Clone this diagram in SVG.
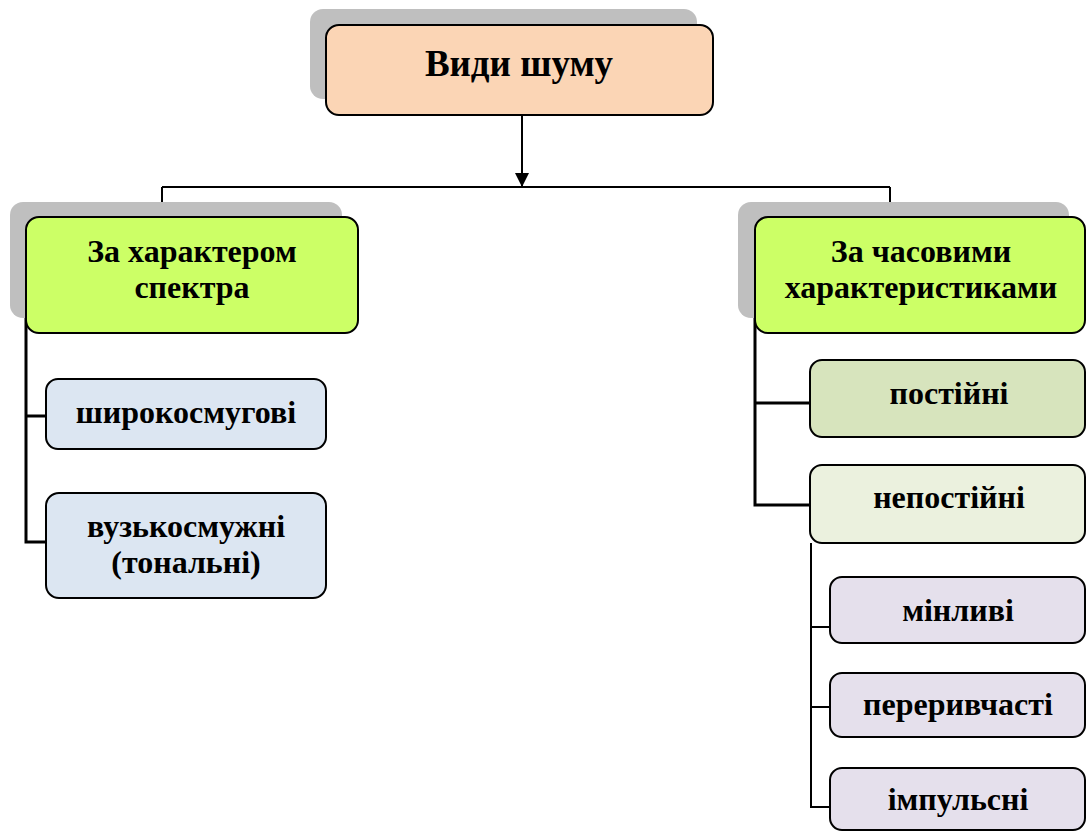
<svg xmlns="http://www.w3.org/2000/svg" width="1086" height="832" viewBox="0 0 1086 832">
  <defs>
    <style>
      .shadow { fill: #BFBFBF; }
      .box { stroke: #000; stroke-width: 2; }
      .lbl { font-family: "Liberation Serif", "Times New Roman", serif; font-weight: bold; font-size: 32px; fill: #000; text-anchor: middle; }
      .title { font-size: 37px; }
      .wire { fill: none; stroke: #000; stroke-width: 2; }
      .bus { fill: none; stroke: #000; stroke-width: 3; }
    </style>
    <marker id="arrow" markerWidth="14" markerHeight="14" refX="14" refY="7" orient="auto" markerUnits="userSpaceOnUse" viewBox="0 0 14 14">
      <path d="M0,0 L14,7 L0,14 z" fill="#000"/>
    </marker>
  </defs>
  <rect width="1086" height="832" fill="#fff"/>

  <!-- connectors -->
  <g id="connectors">
    <path class="wire" d="M522,115 V187" marker-end="url(#arrow)"/>
    <path class="wire" d="M162,187 H890 M162,187 V217 M890,187 V217"/>
    <path class="bus" d="M26,318 V542 H46 M26,416 H46"/>
    <path class="bus" d="M755,283 V505 H810 M755,403 H810"/>
    <path class="wire" d="M811,543 V807 H830 M811,627 H830 M811,707 H830"/>
  </g>

  <g id="root">
    <rect class="shadow" x="310" y="9" width="387" height="90" rx="13"/>
    <rect class="box" x="326" y="25" width="387" height="90" rx="13" fill="#FBD5B5"/>
    <text class="lbl title" x="519" y="76">Види шуму</text>
  </g>

  <g id="spectrum">
    <rect class="shadow" x="10" y="202" width="332" height="116" rx="13"/>
    <rect class="box" x="26" y="217" width="332" height="116" rx="13" fill="#CCFF66"/>
    <text class="lbl" x="192" y="262">За характером</text>
    <text class="lbl" x="192" y="298">спектра</text>
  </g>

  <g id="broadband">
    <rect class="box" x="46" y="379" width="280" height="70" rx="12" fill="#DCE6F2"/>
    <text class="lbl" x="186" y="423">широкосмугові</text>
  </g>

  <g id="narrowband">
    <rect class="box" x="46" y="493" width="280" height="105" rx="13" fill="#DCE6F2"/>
    <text class="lbl" x="186" y="537">вузькосмужні</text>
    <text class="lbl" x="186" y="573">(тональні)</text>
  </g>

  <g id="temporal">
    <rect class="shadow" x="738" y="202" width="331" height="116" rx="13"/>
    <rect class="box" x="755" y="217" width="330" height="116" rx="13" fill="#CCFF66"/>
    <text class="lbl" x="921" y="262">За часовими</text>
    <text class="lbl" x="921" y="298">характеристиками</text>
  </g>

  <g id="constant">
    <rect class="box" x="810" y="360" width="275" height="77" rx="12" fill="#D7E4BD"/>
    <text class="lbl" x="949" y="404">постійні</text>
  </g>

  <g id="nonconstant">
    <rect class="box" x="810" y="465" width="275" height="78" rx="12" fill="#EBF1DE"/>
    <text class="lbl" x="949" y="508">непостійні</text>
  </g>

  <g id="variable">
    <rect class="box" x="830" y="577" width="255" height="66" rx="12" fill="#E5E0EC"/>
    <text class="lbl" x="958" y="621">мінливі</text>
  </g>

  <g id="intermittent">
    <rect class="box" x="830" y="673" width="255" height="64" rx="12" fill="#E5E0EC"/>
    <text class="lbl" x="958" y="715">переривчасті</text>
  </g>

  <g id="impulse">
    <rect class="box" x="830" y="768" width="255" height="62" rx="12" fill="#E5E0EC"/>
    <text class="lbl" x="958" y="810">імпульсні</text>
  </g>
</svg>
